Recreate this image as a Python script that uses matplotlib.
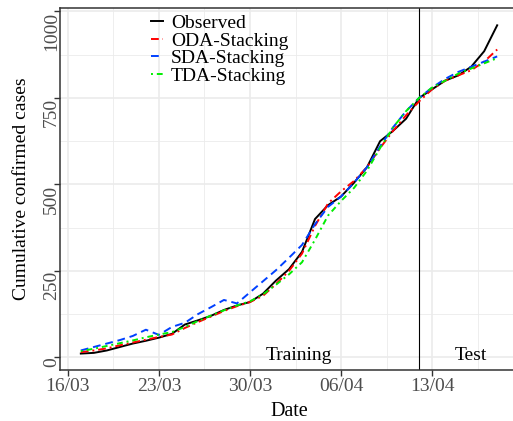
import matplotlib
matplotlib.use("Agg")
import matplotlib.pyplot as plt
import matplotlib.dates as mdates
import pandas as pd
import numpy as np

plt.rcParams['font.family'] = ['Liberation Serif', 'DejaVu Serif']

start_date = "2020-03-17"
n_days = 33
split_date = "2020-04-12"

observed = [11, 13, 20, 30, 40, 48, 57, 68, 95, 107, 120, 137, 150, 160, 184, 222,
            255, 305, 400, 440, 465, 505, 550, 625, 655, 690, 750, 775, 800, 815, 840, 885, 960]
oda = [15, 20, 26, 35, 43, 51, 59, 66, 85, 102, 118, 134, 148, 160, 178, 212,
       250, 300, 380, 445, 480, 510, 550, 605, 655, 700, 740, 775, 800, 815, 830, 855, 890]
sda = [20, 30, 40, 50, 62, 80, 65, 88, 100, 125, 145, 166, 156, 188, 220, 252,
       288, 325, 385, 435, 465, 505, 550, 610, 665, 712, 750, 780, 805, 825, 840, 855, 870]
tda = [18, 25, 33, 41, 49, 58, 66, 73, 88, 105, 121, 136, 150, 162, 182, 210,
       240, 275, 340, 410, 452, 490, 540, 605, 665, 712, 750, 780, 800, 820, 835, 850, 865]

tick_labels = ["16/03", "23/03", "30/03", "06/04", "13/04"]
tick_dates = ["2020-03-16", "2020-03-23", "2020-03-30", "2020-04-06", "2020-04-13"]
y_ticks = [0, 250, 500, 750, 1000]

dates = pd.date_range(start_date, periods=n_days)

fig = plt.figure(figsize=(5.13, 4.21), dpi=100)
ax = fig.add_axes([60/513, 51/421, (518-60)/513, 362/421])

grid_c = '#EBEBEB'
tk = pd.to_datetime(tick_dates)
xnum = mdates.date2num(tk)
minor_x = list((xnum[:-1] + xnum[1:]) / 2) + [xnum[-1] + 3.5]
for m in minor_x:
    ax.axvline(m, color=grid_c, lw=0.6, zorder=0)
for m in [125, 375, 625, 875]:
    ax.axhline(m, color=grid_c, lw=0.6, zorder=0)
for m in xnum:
    ax.axvline(m, color=grid_c, lw=1.2, zorder=0)
for m in y_ticks:
    ax.axhline(m, color=grid_c, lw=1.2, zorder=0)

lw = 1.4
ax.plot(dates, observed, color='black', lw=lw, label='Observed', zorder=3)
ax.plot(dates, oda, color='#FF0000', lw=lw, dashes=(4, 2, 1, 2), label='ODA-Stacking', zorder=4)
ax.plot(dates, sda, color='#0040FF', lw=lw, dashes=(4, 2.5), label='SDA-Stacking', zorder=4)
ax.plot(dates, tda, color='#00EE00', lw=lw, dashes=(1, 2, 3, 2), label='TDA-Stacking', zorder=4)

ax.axvline(pd.Timestamp(split_date), color='black', lw=0.8, zorder=2)

ax.text(pd.Timestamp("2020-04-02 18:00"), -8, "Training", fontsize=14, ha='center', va='baseline')
ax.text(pd.Timestamp("2020-04-16"), -8, "Test", fontsize=14, ha='center', va='baseline')

x0 = mdates.date2num(dates[0]); x1 = mdates.date2num(dates[-1])
ax.set_xlim(x0 - 1.6, x1 + 1.6)
ax.set_ylim(-36.5, 1010)

ax.set_xticks(tk)
ax.set_xticklabels(tick_labels)
ax.set_yticks(y_ticks)
ax.set_yticklabels([str(v) for v in y_ticks], rotation=90, va='top', ha='center')
ax.tick_params(axis='both', labelsize=14, labelcolor='#4D4D4D', color='#333333',
               length=4, width=1.0)
ax.tick_params(axis='y', pad=2)
ax.tick_params(axis='x', pad=2)

for s in ax.spines.values():
    s.set_color('#333333')
    s.set_linewidth(1.1)

ax.set_xlabel("Date", fontsize=14.5, labelpad=5)
ax.set_ylabel("Cumulative confirmed cases", fontsize=14, va='center')
ax.yaxis.set_label_coords(-0.084, 0.5)

leg = ax.legend(loc='upper left', bbox_to_anchor=(0.17, 1.02), frameon=False, fontsize=14,
                handlelength=0.6, handletextpad=0.4, labelspacing=0.0, borderpad=0.2)

fig.savefig("out.png", dpi=100)
